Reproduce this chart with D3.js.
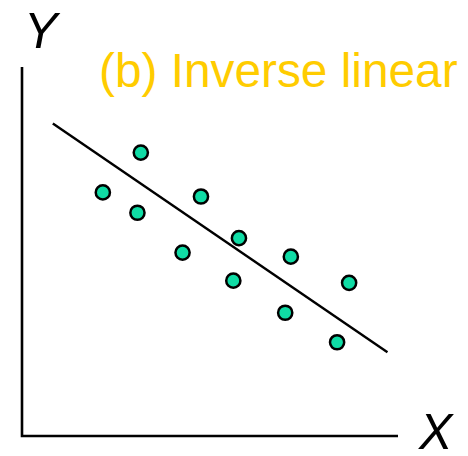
<!DOCTYPE html>
<html>
<head>
<meta charset="utf-8">
<script src="https://cdn.jsdelivr.net/npm/d3@7"></script>
<style>
  body { margin: 0; background: #fff; }
  svg { display: block; }
</style>
</head>
<body>
<svg id="chart"></svg>
<script>
// scatter values, in axis units (0..10)
const xValues = [3.16, 2.15, 3.07, 4.76, 4.27, 5.77, 5.62, 7.15, 7.00, 8.70, 8.38];
const yValues = [7.68, 6.60, 6.05, 6.49, 4.97, 5.36, 4.21, 4.86, 3.34, 4.15, 2.54];
// trend line end points
const lineX = [0.82, 9.72];
const lineY = [8.47, 2.27];
const title = "(b) Inverse linear";
const axisLabels = ["X", "Y"];

const width = 468, height = 456;
const margin = { top: 67, right: 70, bottom: 20, left: 22 };

const svg = d3.select("#chart")
  .attr("width", width)
  .attr("height", height);

const x = d3.scaleLinear()
  .domain([0, 10])
  .range([margin.left, width - margin.right]);

const y = d3.scaleLinear()
  .domain([0, 10])
  .range([height - margin.bottom, margin.top]);

// axes, plain lines with no ticks
svg.append("path")
  .attr("d", `M${x(0)},${y(10)}V${y(0)}H${x(10)}`)
  .attr("fill", "none")
  .attr("stroke", "#000")
  .attr("stroke-width", 2.6);

svg.append("text")
  .attr("x", x(0) + 2)
  .attr("y", 48)
  .attr("font-family", "Liberation Sans, Arial, sans-serif")
  .attr("font-style", "italic")
  .style("font-size", "50px")
  .text(axisLabels[1]);

svg.append("text")
  .attr("x", x(10) + 21)
  .attr("y", y(0) + 13)
  .attr("font-family", "Liberation Sans, Arial, sans-serif")
  .attr("font-style", "italic")
  .style("font-size", "50px")
  .text(axisLabels[0]);

svg.append("text")
  .attr("x", 99)
  .attr("y", 87)
  .attr("font-family", "Liberation Sans, Arial, sans-serif")
  .attr("fill", "#ffcc00")
  .style("font-size", "47.8px")
  .text(title);

svg.append("line")
  .attr("x1", x(lineX[0]))
  .attr("y1", y(lineY[0]))
  .attr("x2", x(lineX[1]))
  .attr("y2", y(lineY[1]))
  .attr("stroke", "#000")
  .attr("stroke-width", 2.4);

const points = xValues.map((v, i) => ({ x: v, y: yValues[i] }));

svg.selectAll(".dot")
  .data(points)
  .join("circle")
    .attr("class", "dot")
    .attr("cx", d => x(d.x))
    .attr("cy", d => y(d.y))
    .attr("r", 7.1)
    .attr("fill", "#10dca5")
    .attr("stroke", "#000")
    .attr("stroke-width", 2.5);
</script>
</body>
</html>
